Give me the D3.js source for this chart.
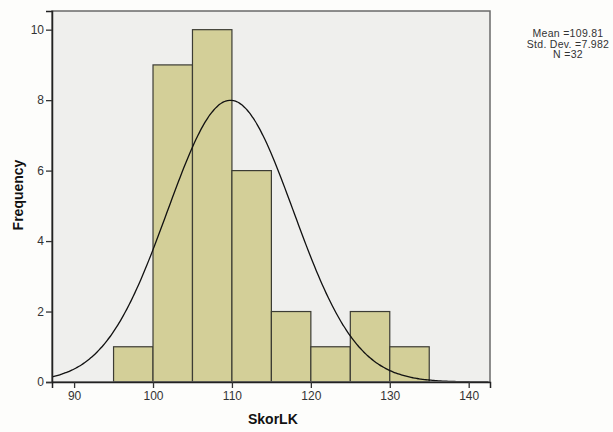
<!DOCTYPE html>
<html>
<head>
<meta charset="utf-8">
<script src="https://cdn.jsdelivr.net/npm/d3@7"></script>
<style>
  body { margin: 0; background: #fdfdfb; }
  svg { display: block; }
</style>
</head>
<body>
<div id="chart"></div>
<script>
// histogram bins (lower edge) and counts
const binStarts = [95, 100, 105, 110, 115, 120, 125, 130];
const binWidth = 5;
const counts = [1, 9, 10, 6, 2, 1, 2, 1];
const xTicks = [90, 100, 110, 120, 130, 140];
const yTicks = [0, 2, 4, 6, 8, 10];
const stats = { mean: 109.81, sd: 7.982, n: 32 };
const statLines = ['Mean =109.81', 'Std. Dev. =7.982', 'N =32'];

const width = 613, height = 432;
const plot = { left: 52, top: 11, right: 490, bottom: 382 };

const svg = d3.select('#chart').append('svg')
  .attr('width', width)
  .attr('height', height);

const x = d3.scaleLinear().domain([87.2, 142.7]).range([plot.left, plot.right]);
const y = d3.scaleLinear().domain([0, 10.53]).range([plot.bottom, plot.top]);

svg.append('rect')
  .attr('x', plot.left).attr('y', plot.top)
  .attr('width', plot.right - plot.left).attr('height', plot.bottom - plot.top)
  .attr('fill', '#efefed');

svg.selectAll('.bar')
  .data(binStarts)
  .enter().append('rect')
  .attr('class', 'bar')
  .attr('x', d => x(d))
  .attr('y', (d, i) => y(counts[i]))
  .attr('width', d => x(d + binWidth) - x(d))
  .attr('height', (d, i) => y(0) - y(counts[i]))
  .attr('fill', '#d3cf98')
  .attr('stroke', '#3c3c34')
  .attr('stroke-width', 1.2);

// fitted normal curve scaled to counts
function normal(v) {
  const z = (v - stats.mean) / stats.sd;
  return stats.n * binWidth * Math.exp(-0.5 * z * z) / (stats.sd * Math.sqrt(2 * Math.PI));
}
const curveX = d3.range(x.domain()[0], x.domain()[1], 0.25);
svg.append('clipPath').attr('id', 'clip').append('rect')
  .attr('x', plot.left).attr('y', plot.top)
  .attr('width', plot.right - plot.left).attr('height', plot.bottom - plot.top);
svg.append('path')
  .datum(curveX)
  .attr('clip-path', 'url(#clip)')
  .attr('fill', 'none')
  .attr('stroke', '#111')
  .attr('stroke-width', 1.3)
  .attr('d', d3.line().x(d => x(d)).y(d => y(normal(d))).curve(d3.curveBasis));

// frame
svg.append('rect')
  .attr('x', plot.left).attr('y', plot.top)
  .attr('width', plot.right - plot.left).attr('height', plot.bottom - plot.top)
  .attr('fill', 'none')
  .attr('stroke', '#6a6a6a')
  .attr('stroke-width', 1.5);

const xAxis = svg.append('g')
  .attr('transform', `translate(0,${plot.bottom})`)
  .call(d3.axisBottom(x).tickValues(xTicks).tickSize(6).tickPadding(3));
const yAxis = svg.append('g')
  .attr('transform', `translate(${plot.left},0)`)
  .call(d3.axisLeft(y).tickValues(yTicks).tickSize(6).tickPadding(2));

[xAxis, yAxis].forEach(g => {
  g.select('.domain').attr('stroke', '#222').attr('stroke-width', 1.5);
  g.selectAll('.tick line').attr('stroke', '#333').attr('stroke-width', 1.3);
  g.selectAll('.tick text')
    .style('font-family', 'Arial, "Liberation Sans", sans-serif')
    .style('font-size', '12px')
    .attr('fill', '#333');
});

svg.append('text')
  .attr('x', (x(100) + x(140)) / 2 - 38)
  .attr('y', 424)
  .attr('text-anchor', 'middle')
  .style('font-family', 'Arial, "Liberation Sans", sans-serif')
  .style('font-weight', 'bold')
  .style('font-size', '14px')
  .attr('fill', '#111')
  .text('SkorLK');

svg.append('text')
  .attr('transform', 'translate(23,195) rotate(-90)')
  .attr('text-anchor', 'middle')
  .style('font-family', 'Arial, "Liberation Sans", sans-serif')
  .style('font-weight', 'bold')
  .style('font-size', '14px')
  .attr('fill', '#111')
  .text('Frequency');

svg.selectAll('.stat')
  .data(statLines)
  .enter().append('text')
  .attr('class', 'stat')
  .attr('x', 568)
  .attr('y', (d, i) => 37 + i * 10.5)
  .attr('text-anchor', 'middle')
  .style('font-family', 'Arial, "Liberation Sans", sans-serif')
  .style('font-size', '10.5px')
  .style('letter-spacing', '0.3px')
  .attr('fill', '#333')
  .text(d => d);
</script>
</body>
</html>
